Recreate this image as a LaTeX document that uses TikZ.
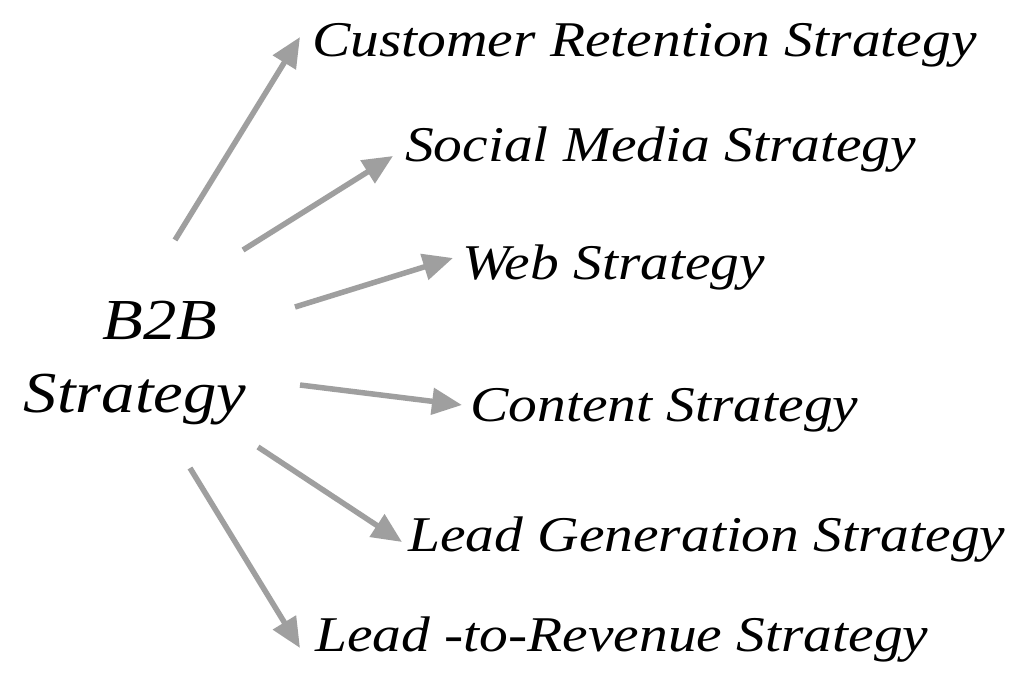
\documentclass[tikz,border=0pt]{standalone}
\usepackage{fontspec}
\setmainfont{Liberation Serif}[FakeStretch=1.15]
\usetikzlibrary{arrows.meta,positioning}

\begin{document}
\begin{tikzpicture}[x=1pt,y=-1pt]
  \tikzstyle{every node}=[font=\itshape\fontsize{50}{54}\selectfont,inner sep=0pt]
  \tikzstyle{branch}=[anchor=west]
  \tikzstyle{link}=[draw=gray!75,line width=5.5pt,-{Triangle[length=30pt,width=26pt]}]
  \useasboundingbox[fill=white] (0,0) rectangle (1024,695);

  \node[font=\itshape\fontsize{58}{62}\selectfont] (B2B) at (160,320) {B2B};
  \node[font=\itshape\fontsize{58}{62}\selectfont] (Strat) at (135,400) {Strategy};

  \node[branch] (Ret)  at (312,45)  {Customer Retention Strategy};
  \node[branch] (Soc)  at (405,150) {Social Media Strategy};
  \node[branch] (Web)  at (462,268) {Web Strategy};
  \node[branch] (Cont) at (470,410) {Content Strategy};
  \node[branch] (Gen)  at (408,540) {Lead Generation Strategy};
  \node[branch] (Rev)  at (315,640) {Lead -to-Revenue Strategy};

  % tails of the arrows
  \coordinate (t1) at (175,240);
  \coordinate (t2) at (243,250);
  \coordinate (t3) at (295,307);
  \coordinate (t4) at (300,385);
  \coordinate (t5) at (258,447);
  \coordinate (t6) at (190,468);

  \draw[link] (t1) -- ([xshift=-12pt,yshift=8pt]Ret.west);
  \draw[link] (t2) -- ([xshift=-12pt,yshift=-6pt]Soc.west);
  \draw[link] (t3) -- ([xshift=-9pt,yshift=10pt]Web.west);
  \draw[link] (t4) -- ([xshift=-8pt,yshift=5pt]Cont.west);
  \draw[link] (t5) -- ([xshift=-6pt,yshift=-2pt]Gen.west);
  \draw[link] (t6) -- ([xshift=-15pt,yshift=-8pt]Rev.west);
\end{tikzpicture}
\end{document}
